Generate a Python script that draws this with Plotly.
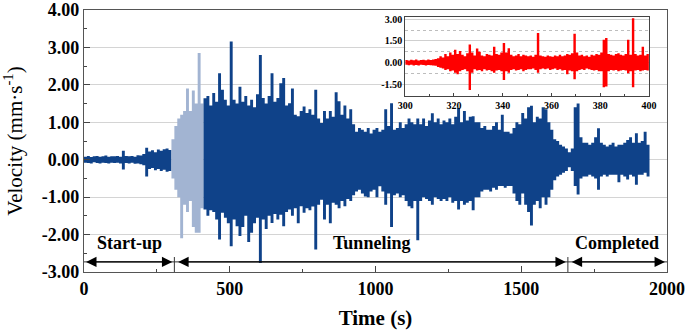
import plotly.graph_objects as go

# ---------------- data ----------------
# main record: envelope (upper / lower peak) per 10 s bin, 0 ... 1940 s
T_MAIN = list(range(0, 1950, 10))
UPPER = [
    0.08, 0.10, 0.07, 0.09, 0.10, 0.08, 0.09, 0.11, 0.08, 0.09,
    0.09, 0.10, 0.08, 0.24, 0.10, 0.09, 0.10, 0.08, 0.12, 0.11,
    0.15, 0.32, 0.22, 0.25, 0.20, 0.27, 0.24, 0.28, 0.30, 0.26,
    0.55, 0.90, 1.10, 1.20, 1.30, 1.90, 1.30, 1.85, 1.50, 2.85,
    1.50, 1.64, 1.70, 1.45, 1.78, 1.55, 2.31, 1.87, 1.60, 1.45,
    3.16, 1.60, 1.50, 1.95, 1.55, 1.70, 1.45, 1.60, 1.40, 1.75,
    2.80, 1.65, 1.50, 1.70, 2.31, 1.55, 1.65, 2.04, 2.18, 1.45,
    1.51, 1.90, 1.20, 1.16, 1.30, 1.42, 1.25, 1.35, 1.20, 1.87,
    1.10, 0.98, 1.30, 1.10, 1.30, 1.15, 1.80, 1.56, 1.20, 1.45,
    1.10, 1.35, 0.95, 0.75, 0.85, 0.80, 0.75, 0.85, 0.70, 0.80,
    0.85, 0.75, 0.80, 1.35, 0.90, 1.51, 0.80, 0.85, 1.00, 0.85,
    0.95, 1.10, 1.00, 0.95, 1.10, 0.95, 1.10, 0.90, 1.05, 1.24,
    1.00, 1.10, 0.95, 1.05, 1.00, 1.10, 0.95, 1.15, 1.38, 1.00,
    1.30, 1.05, 1.15, 1.16, 1.00, 1.00, 0.85, 0.90, 0.80, 0.80,
    0.90, 1.00, 0.80, 1.20, 0.75, 0.75, 0.70, 0.85, 1.00, 0.95,
    1.25, 1.10, 1.40, 1.44, 1.00, 1.15, 1.10, 1.40, 1.35, 1.00,
    0.80, 0.55, 0.50, 0.40, 0.35, 0.30, 0.20, 0.30, 1.40, 1.50,
    0.60, 0.45, 0.45, 0.40, 0.45, 0.60, 0.84, 0.45, 0.40, 0.35,
    0.40, 0.45, 0.35, 0.40, 0.40, 0.45, 0.53, 0.60, 0.45, 0.71,
    0.45, 0.50, 0.75, 0.40, 0.62,
]
LOWER = [
    -0.08, -0.09, -0.10, -0.07, -0.09, -0.10, -0.08, -0.09, -0.10, -0.08,
    -0.09, -0.08, -0.10, -0.26, -0.09, -0.10, -0.08, -0.11, -0.10, -0.12,
    -0.15, -0.45, -0.25, -0.22, -0.28, -0.25, -0.30, -0.27, -0.32, -0.30,
    -0.50, -0.80, -1.00, -2.10, -1.20, -1.40, -1.10, -1.80, -1.95, -1.95,
    -1.30, -1.33, -1.50, -1.35, -1.40, -1.60, -2.13, -1.42, -1.55, -1.70,
    -2.31, -1.60, -1.78, -2.04, -1.80, -1.50, -2.20, -1.95, -1.70, -1.55,
    -2.76, -1.60, -1.85, -1.50, -1.69, -1.45, -1.60, -1.47, -1.78, -1.40,
    -1.33, -1.50, -1.30, -1.70, -1.24, -1.42, -1.30, -1.35, -1.25, -2.40,
    -1.20, -1.07, -1.60, -1.20, -1.70, -1.15, -1.20, -1.30, -1.10, -1.24,
    -1.05, -1.10, -0.95, -0.85, -0.80, -0.90, -0.98, -1.00, -0.85, -0.80,
    -1.00, -0.71, -0.85, -1.20, -0.90, -1.80, -0.95, -0.90, -1.00, -0.95,
    -1.10, -1.24, -1.30, -1.10, -2.15, -1.10, -1.00, -1.05, -1.10, -1.20,
    -1.00, -1.05, -1.10, -1.05, -1.10, -1.00, -1.15, -1.10, -1.33, -1.10,
    -1.20, -1.15, -1.10, -1.35, -1.00, -1.00, -0.85, -0.80, -0.80, -0.85,
    -0.75, -0.80, -0.70, -0.70, -0.75, -0.70, -0.70, -0.90, -1.10, -1.20,
    -0.90, -1.20, -1.40, -1.76, -1.20, -1.10, -1.30, -1.00, -1.20, -1.00,
    -0.80, -0.55, -0.45, -0.40, -0.35, -0.30, -0.20, -0.30, -0.70, -0.93,
    -0.50, -0.45, -0.45, -0.40, -0.45, -0.50, -0.80, -0.45, -0.40, -0.45,
    -0.40, -0.40, -0.40, -0.60, -0.40, -0.45, -0.53, -0.40, -0.45, -0.67,
    -0.40, -0.40, -0.35, -0.45, -0.36,
]
# light-blue part of the record (the period zoomed in the inset)
LIGHT_START, LIGHT_END = 300, 400

# inset: 300 ... 400 s, envelope per 1 s
T_INSET = list(range(300, 401))
UP_IN = [
    0.18, 0.15, 0.20, 0.16, 0.22, 0.15, 0.18, 0.20, 0.17, 0.21,
    0.18, 0.22, 0.25, 0.30, 0.45, 0.35, 0.60, 0.45, 0.70, 0.55,
    0.90, 0.60, 0.80, 0.55, 0.45, 0.65, 1.25, 0.70, 0.50, 0.97,
    0.75, 0.50, 0.45, 0.60, 0.55, 0.50, 1.10, 0.60, 0.55, 0.70,
    1.36, 0.70, 1.00, 0.55, 0.45, 0.50, 0.60, 0.45, 0.55, 0.50,
    0.45, 0.50, 0.40, 0.55, 2.05, 0.50, 0.45, 0.40, 0.50, 0.45,
    0.40, 0.50, 0.45, 0.55, 0.45, 0.50, 0.60, 0.55, 0.65, 1.99,
    0.70, 0.50, 0.55, 0.45, 0.50, 0.40, 0.55, 0.50, 0.60, 0.55,
    0.70, 1.59, 1.70, 0.60, 0.55, 0.50, 0.60, 0.65, 0.55, 0.50,
    0.60, 1.59, 0.55, 3.07, 0.60, 0.50, 0.55, 1.10, 0.50, 0.60,
    0.45,
]
LO_IN = [
    -0.15, -0.18, -0.14, -0.20, -0.16, -0.19, -0.15, -0.17, -0.20, -0.16,
    -0.18, -0.20, -0.22, -0.30, -0.35, -0.40, -0.50, -0.45, -0.60, -0.55,
    -0.70, -0.80, -0.60, -0.50, -0.45, -0.60, -1.89, -0.70, -0.45, -0.55,
    -0.50, -0.60, -0.45, -0.55, -0.50, -0.60, -0.70, -0.55, -0.50, -0.60,
    -1.20, -0.60, -0.70, -0.50, -0.45, -0.55, -0.50, -0.45, -0.60, -0.50,
    -0.45, -0.46, -0.40, -0.50, -0.70, -0.45, -0.40, -0.45, -0.40, -0.50,
    -0.45, -0.40, -0.50, -0.45, -0.55, -0.50, -0.80, -0.55, -0.60, -1.14,
    -0.60, -0.50, -0.45, -0.50, -0.40, -0.45, -0.50, -0.55, -0.50, -0.60,
    -0.60, -1.70, -1.64, -0.60, -0.50, -0.55, -0.50, -0.60, -0.55, -0.50,
    -0.55, -0.74, -0.60, -1.70, -0.55, -0.50, -0.60, -0.55, -0.50, -0.55,
    -0.45,
]

# phases (label, start s, end s)
PHASES = [("Start-up", 0, 310), ("Tunneling", 310, 1660), ("Completed", 1660, 2000)]

X_TICKS = [0, 500, 1000, 1500, 2000]
Y_TICKS = [-3, -2, -1, 0, 1, 2, 3, 4]
Y_TICKTEXT = ["-3.00", "-2.00", "-1.00", "0.00", "1.00", "2.00", "3.00", "4.00"]
IN_X_TICKS = [300, 320, 340, 360, 380, 400]
IN_Y_TICKS = [-1.5, 0, 1.5, 3]
IN_Y_TICKTEXT = ["-1.50", "0.00", "1.50", "3.00"]

# ---------------- figure ----------------
DARK = "#0f4289"
LIGHT = "#a2b4d2"
SERIF = "Liberation Serif"

fig = go.Figure()


def add_band(ts, up, lo, color, xa="x", ya="y"):
    common = dict(x=ts, mode="lines", line=dict(shape="hv", width=0, color=color),
                  xaxis=xa, yaxis=ya, showlegend=False, hoverinfo="skip")
    fig.add_trace(go.Scatter(y=lo, **common))
    fig.add_trace(go.Scatter(y=up, fill="tonexty", fillcolor=color, **common))


def pick(cond):
    idx = [i for i, t in enumerate(T_MAIN) if cond(t)]
    return ([T_MAIN[i] for i in idx], [UPPER[i] for i in idx], [LOWER[i] for i in idx])


add_band(*pick(lambda t: t <= LIGHT_START), DARK)
add_band(*pick(lambda t: LIGHT_START <= t <= LIGHT_END + 10), LIGHT)
add_band(*pick(lambda t: t > LIGHT_END), DARK)
add_band(T_INSET, UP_IN, LO_IN, "#ff0000", "x2", "y2")

tickfont = dict(family=SERIF, size=18, color="black", weight="bold")
fig.update_layout(
    width=685, height=331,
    margin=dict(l=84, r=18, t=10, b=59, autoexpand=False),
    paper_bgcolor="white", plot_bgcolor="white",
    xaxis=dict(
        range=[0, 2000], tickvals=X_TICKS, ticks="inside", ticklen=6, tickcolor="#444",
        minor=dict(tickvals=[250, 750, 1250, 1750], ticks="inside", ticklen=3, tickcolor="#444"),
        showline=True, mirror=True, linecolor="#555", linewidth=1.2, automargin=False,
        showgrid=False, zeroline=False, tickfont=tickfont,
        title=dict(text="Time (s)", font=dict(family=SERIF, size=21, color="black", weight="bold"),
                   standoff=12),
    ),
    yaxis=dict(
        range=[-3, 4], tickvals=Y_TICKS, ticktext=Y_TICKTEXT, ticks="inside", ticklen=6,
        tickcolor="#444", automargin=False,
        minor=dict(tickvals=[-2.5, -1.5, -0.5, 0.5, 1.5, 2.5, 3.5], ticks="inside", ticklen=3,
                   tickcolor="#444"),
        showline=True, mirror=True, linecolor="#555", linewidth=1.2,
        showgrid=True, gridcolor="#d4d4d4", gridwidth=1, zeroline=False, tickfont=tickfont,
        title=dict(text="Velocity (mm·s<sup>-1</sup>)", font=dict(family=SERIF, size=21, color="black"),
                   standoff=13),
    ),
    xaxis2=dict(
        domain=[0.551, 0.969], anchor="y2", range=[300, 400], tickvals=IN_X_TICKS,
        ticks="inside", ticklen=3, tickcolor="#444", automargin=False,
        minor=dict(dtick=10, tick0=300, ticks="inside", ticklen=2, tickcolor="#444"),
        showline=True, mirror=True, linecolor="#444", linewidth=1.2,
        showgrid=False, zeroline=False,
        tickfont=dict(family=SERIF, size=10, color="black", weight="bold"),
    ),
    yaxis2=dict(
        domain=[0.672, 0.973], anchor="x2", range=[-2.3, 3.15], tickvals=IN_Y_TICKS,
        ticktext=IN_Y_TICKTEXT, ticks="", showline=True, mirror=True, linecolor="#444",
        linewidth=1.2, showgrid=True, gridcolor="#cfcfcf", zeroline=False, automargin=False,
        minor=dict(tickvals=[-2.25, -0.75, 0.75, 2.25], showgrid=True, gridcolor="#bdbdbd",
                   griddash="dot"),
        tickfont=dict(family=SERIF, size=10, color="black", weight="bold"),
    ),
)

ARROW_Y = -2.73
TEXT_Y = -2.22
annotations = []
shapes = [dict(type="line", xref="x", yref="y", x0=0, x1=2000, y0=ARROW_Y, y1=ARROW_Y,
               line=dict(color="#333", width=1))]
for i, (label, t0, t1) in enumerate(PHASES):
    annotations.append(dict(x=(t0 + t1) / 2 if i != 0 else 155, y=TEXT_Y, xref="x", yref="y",
                            text=label, showarrow=False,
                            font=dict(family=SERIF, size=18, color="black", weight="bold")))
    annotations.append(dict(x=t1 - 7, y=ARROW_Y, ax=t0 + (8 if t0 > 0 else 2),
                            ay=ARROW_Y, xref="x", yref="y", axref="x", ayref="y", text="",
                            showarrow=True, arrowside="end+start", arrowhead=2, arrowsize=1.6,
                            arrowwidth=1.3, arrowcolor="black"))
    if t0 > 0:
        shapes.append(dict(type="line", xref="x", yref="y", x0=t0, x1=t0, y0=-3, y1=-2.6,
                           line=dict(color="#333", width=1)))
fig.update_layout(annotations=annotations, shapes=shapes)

fig.write_html("out.html", config={"displayModeBar": False},
               post_script="document.body.style.margin='0';")
